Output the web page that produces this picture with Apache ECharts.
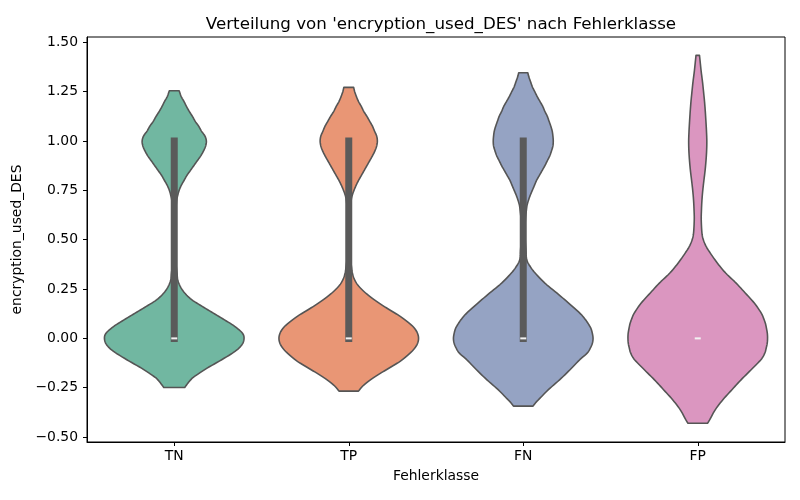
<!DOCTYPE html>
<html>
<head>
<meta charset="utf-8">
<script src="https://cdn.jsdelivr.net/npm/echarts@6/dist/echarts.min.js"></script>
<style>html,body{margin:0;padding:0;background:#fff}#c{width:800px;height:500px}</style>
</head>
<body>
<div id="c"></div>
<script>
// ---- data ----
const categories = ['TN', 'TP', 'FN', 'FP'];
const yTicks = [-0.5, -0.25, 0, 0.25, 0.5, 0.75, 1.0, 1.25, 1.5];
// density profiles: [value, relative width (max = 1)]
const densityTN = [[1.255,0.07],[1.225,0.10],[1.20,0.14],[1.175,0.175],[1.15,0.215],[1.125,0.26],[1.10,0.30],[1.075,0.35],[1.05,0.39],[1.025,0.44],[1.00,0.46],[0.975,0.45],[0.95,0.42],[0.925,0.38],[0.90,0.33],[0.875,0.28],[0.85,0.23],[0.825,0.18],[0.80,0.14],[0.775,0.10],[0.75,0.07],[0.725,0.05],[0.70,0.035],[0.65,0.022],[0.60,0.016],[0.50,0.012],[0.40,0.018],[0.36,0.03],[0.33,0.04],[0.297,0.05],[0.263,0.086],[0.23,0.15],[0.196,0.25],[0.162,0.40],[0.128,0.56],[0.094,0.72],[0.06,0.87],[0.027,0.975],[0,1],[-0.032,0.97],[-0.066,0.87],[-0.108,0.68],[-0.151,0.47],[-0.193,0.29],[-0.21,0.235],[-0.227,0.195],[-0.249,0.15]];
const densityTP = [[1.272,0.07],[1.25,0.085],[1.225,0.11],[1.20,0.14],[1.175,0.18],[1.15,0.215],[1.125,0.26],[1.10,0.30],[1.075,0.34],[1.05,0.37],[1.025,0.40],[1.00,0.41],[0.975,0.40],[0.95,0.375],[0.925,0.34],[0.90,0.30],[0.875,0.26],[0.85,0.22],[0.825,0.18],[0.80,0.14],[0.775,0.105],[0.75,0.075],[0.725,0.05],[0.70,0.035],[0.65,0.02],[0.55,0.012],[0.45,0.014],[0.40,0.025],[0.36,0.04],[0.334,0.05],[0.30,0.08],[0.27,0.13],[0.24,0.21],[0.21,0.31],[0.18,0.43],[0.15,0.56],[0.12,0.70],[0.09,0.82],[0.06,0.92],[0.03,0.98],[0,1],[-0.03,0.98],[-0.06,0.92],[-0.09,0.83],[-0.12,0.72],[-0.15,0.58],[-0.18,0.44],[-0.21,0.31],[-0.24,0.205],[-0.267,0.14]];
const densityFN = [[1.346,0.065],[1.325,0.08],[1.30,0.105],[1.275,0.13],[1.25,0.165],[1.225,0.20],[1.20,0.24],[1.175,0.28],[1.15,0.31],[1.125,0.345],[1.10,0.37],[1.075,0.395],[1.05,0.415],[1.025,0.425],[1.00,0.43],[0.975,0.425],[0.95,0.405],[0.925,0.38],[0.90,0.345],[0.875,0.31],[0.85,0.27],[0.825,0.23],[0.80,0.19],[0.775,0.16],[0.75,0.13],[0.725,0.10],[0.70,0.075],[0.675,0.055],[0.65,0.045],[0.60,0.03],[0.55,0.025],[0.50,0.028],[0.45,0.038],[0.398,0.05],[0.364,0.10],[0.331,0.17],[0.28,0.31],[0.23,0.48],[0.179,0.65],[0.128,0.81],[0.10,0.88],[0.075,0.93],[0.05,0.97],[0.025,0.99],[0,1],[-0.025,0.99],[-0.05,0.96],[-0.075,0.915],[-0.108,0.81],[-0.159,0.67],[-0.21,0.52],[-0.26,0.36],[-0.303,0.24],[-0.325,0.18],[-0.343,0.14]];
const densityFP = [[1.434,0.025],[1.40,0.035],[1.35,0.05],[1.30,0.068],[1.25,0.083],[1.20,0.097],[1.15,0.108],[1.10,0.117],[1.05,0.125],[1.00,0.13],[0.95,0.127],[0.90,0.118],[0.85,0.105],[0.80,0.088],[0.75,0.072],[0.70,0.06],[0.65,0.053],[0.601,0.05],[0.534,0.06],[0.50,0.08],[0.466,0.12],[0.432,0.18],[0.382,0.28],[0.331,0.40],[0.28,0.55],[0.23,0.68],[0.179,0.81],[0.128,0.91],[0.10,0.945],[0.075,0.97],[0.05,0.985],[0.025,0.997],[0,1],[-0.025,0.995],[-0.05,0.98],[-0.075,0.96],[-0.108,0.905],[-0.159,0.765],[-0.21,0.62],[-0.26,0.49],[-0.311,0.36],[-0.362,0.25],[-0.413,0.17],[-0.43,0.14]];
const q1Values = [0, 0, 0, 0];
const q3Values = [1, 1, 1, 0];
const medianValues = [0, 0, 0, 0];

const profiles = [densityTN, densityTP, densityFN, densityFP];
const colors = ['#71b7a1', '#e99675', '#95a3c3', '#db96c0'];
const FONT = 'DejaVu Sans';

// Catmull-Rom sampling of an open pixel polyline (rendering only)
function smoothLine(pts, steps) {
  const out = [];
  const n = pts.length;
  for (let i = 0; i < n - 1; i++) {
    const p0 = pts[Math.max(i - 1, 0)], p1 = pts[i], p2 = pts[i + 1], p3 = pts[Math.min(i + 2, n - 1)];
    for (let s = 0; s < steps; s++) {
      const t = s / steps, t2 = t * t, t3 = t2 * t;
      const f = k => 0.5 * ((2 * p1[k]) + (-p0[k] + p2[k]) * t + (2 * p0[k] - 5 * p1[k] + 4 * p2[k] - p3[k]) * t2 + (-p0[k] + 3 * p1[k] - 3 * p2[k] + p3[k]) * t3);
      out.push([f(0), f(1)]);
    }
  }
  out.push(pts[n - 1]);
  return out;
}

const chart = echarts.init(document.getElementById('c'), null, {renderer: 'canvas'});
const fmt = v => (v < 0 ? '\u2212' + Math.abs(v).toFixed(2) : v.toFixed(2));

chart.setOption({
  animation: false,
  title: {
    text: "Verteilung von 'encryption_used_DES' nach Fehlerklasse",
    left: 436, top: 11, textAlign: 'center',
    textStyle: {fontFamily: FONT, fontSize: 16.7, fontWeight: 'normal', color: '#000'}
  },
  grid: {left: 87, right: 15, top: 37, bottom: 58, show: true, borderColor: '#000', borderWidth: 1, backgroundColor: 'transparent'},
  xAxis: {
    type: 'category', data: categories, boundaryGap: true,
    name: 'Fehlerklasse', nameLocation: 'middle', nameGap: 27,
    nameTextStyle: {fontFamily: FONT, fontSize: 13.9, color: '#000'},
    axisLine: {show: true, onZero: false, lineStyle: {color: '#000', width: 1}},
    axisTick: {show: true, alignWithLabel: true, length: 4, lineStyle: {color: '#000'}},
    axisLabel: {fontFamily: FONT, fontSize: 13.9, color: '#000', margin: 7},
    splitLine: {show: false}
  },
  yAxis: {
    type: 'value', min: -0.525, max: 1.527,
    name: 'encryption_used_DES', nameLocation: 'middle', nameGap: 53,
    nameTextStyle: {fontFamily: FONT, fontSize: 13.9, color: '#000'},
    axisLine: {show: true, onZero: false, lineStyle: {color: '#000', width: 1}},
    axisTick: {show: true, length: 4, customValues: yTicks, lineStyle: {color: '#000'}},
    axisLabel: {fontFamily: FONT, fontSize: 13.9, color: '#000', margin: 9, customValues: yTicks, formatter: fmt},
    splitLine: {show: false}
  },
  series: [{
    type: 'custom',
    data: categories.map((c, i) => [i, q1Values[i], q3Values[i], medianValues[i]]),
    encode: {x: 0, y: [1, 2]},
    renderItem: function (params, api) {
      const ci = api.value(0);
      const prof = profiles[ci];
      const cx = api.coord([ci, 0])[0];
      const half = api.size([1, 0])[0] * 0.4;
      const left = [], right = [];
      prof.forEach(function (p) {
        const y = api.coord([ci, p[0]])[1];
        left.push([cx - p[1] * half, y]);
        right.push([cx + p[1] * half, y]);
      });
      const sl = smoothLine(left, 6);
      const sr = smoothLine(right, 6).reverse();
      const pts = sl.concat(sr);
      const children = [{
        type: 'polygon',
        shape: {points: pts},
        style: {fill: colors[ci], stroke: '#555555', lineWidth: 1.6, lineJoin: 'round'}
      }];
      const q1 = api.value(1), q3 = api.value(2), med = api.value(3);
      if (q3 > q1) {
        const yTop = api.coord([ci, q3])[1];
        const yBot = api.coord([ci, q1])[1];
        children.push({
          type: 'rect',
          shape: {x: cx - 3.5, y: yTop - 3.5, width: 7, height: yBot - yTop + 7},
          style: {fill: '#5a5a5a'}
        });
      }
      const ym = api.coord([ci, med])[1];
      children.push({
        type: 'rect',
        shape: {x: cx - 3, y: ym - 1, width: 6, height: 2},
        style: {fill: '#f2f2f2'}
      });
      return {type: 'group', children: children};
    }
  }]
});
</script>
</body>
</html>
